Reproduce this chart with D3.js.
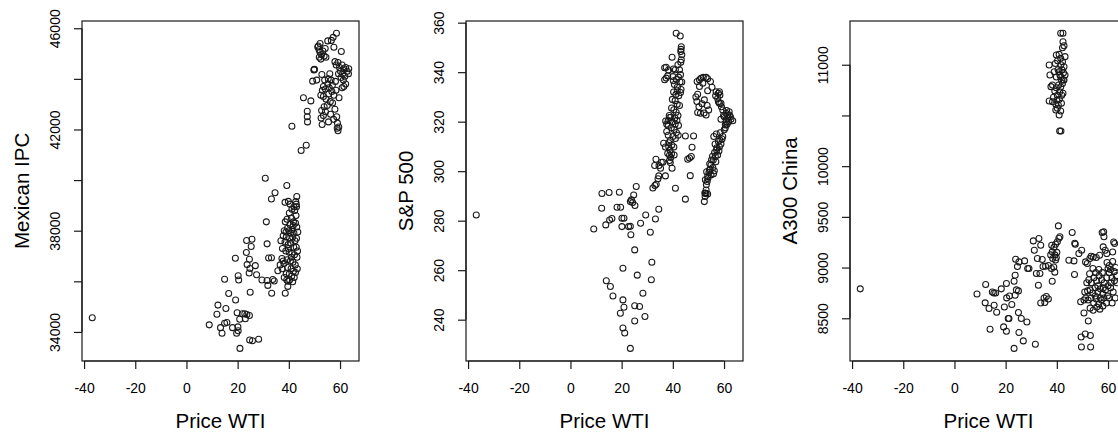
<!DOCTYPE html>
<html>
<head>
<meta charset="utf-8">
<script src="https://cdn.jsdelivr.net/npm/d3@7"></script>
<style>
  html, body { margin: 0; padding: 0; background: #fff; }
  svg { display: block; }
  text { font-family: "Liberation Sans", Arial, sans-serif; fill: #000; }
</style>
</head>
<body>
<svg id="chart" width="1118" height="434"></svg>
<script>
// WTI price (x) against three stock indices (y): [wti, index] pairs per panel.
const ipcPoints = [
  [-36.8, 34560],
  [8.9, 34280], [12.3, 35060], [11.9, 34700], [13.3, 34170], [13.9, 33950], [14.9, 34340], [15.8, 34370],
  [15.4, 34930], [14.9, 36080], [16.5, 35520], [18.0, 34170], [19.2, 35260], [19.8, 34760], [19.6, 33950],
  [20.1, 34200], [20.2, 34050], [19.1, 36910], [20.2, 36220], [20.4, 36050], [20.9, 33350], [21.9, 34720],
  [22.8, 34720], [23.6, 34690], [23.0, 34520], [24.6, 34650], [20.8, 34500], [24.7, 33680], [25.8, 33650],
  [28.2, 33710], [24.9, 35570], [23.5, 37610], [25.6, 37660], [25.3, 37380], [23.4, 37140], [24.6, 36870],
  [23.7, 36660], [24.8, 36510], [24.5, 36330], [26.9, 36620], [27.4, 36260], [29.5, 36050], [31.5, 36030],
  [31.8, 35840], [33.3, 35530], [33.7, 36070], [34.3, 36010], [30.8, 40070], [31.5, 37480], [32.1, 36920],
  [33.2, 36930], [33.2, 39250], [34.6, 39500], [31.2, 38350], [35.7, 36420], [36.6, 36650], [37.3, 36900],
  [38.5, 39120], [39.8, 39160], [39.2, 39790], [43.1, 39350], [42.7, 39150], [43.0, 38950], [38.6, 35530],
  [39.6, 35800], [39.7, 36000],
  [40.2, 38700], [41.0, 38500], [42.3, 38800], [42.8, 38600], [41.8, 38350], [40.5, 38250], [39.5, 38100],
  [38.9, 37950], [40.0, 38000], [41.3, 38050], [42.0, 37900], [43.1, 38150], [43.5, 37950], [39.0, 37750],
  [40.3, 37700], [41.5, 37750], [42.4, 37600], [43.0, 37700], [38.2, 38000], [37.8, 37800], [38.5, 37550],
  [39.7, 37450], [40.8, 37500], [41.9, 37350], [42.9, 37350], [37.5, 37300], [38.8, 37200], [40.1, 37150],
  [41.2, 37100], [42.2, 37050], [43.2, 36950], [39.3, 36850], [40.6, 36800], [41.6, 36750], [42.5, 36650],
  [38.1, 36700], [39.5, 36550], [40.9, 36500], [41.8, 36400], [42.6, 36350], [40.2, 36300], [41.1, 36200],
  [42.1, 36150], [39.0, 36300], [40.3, 36050], [41.5, 35980], [38.2, 36150], [37.4, 36500], [39.2, 36050],
  [40.7, 37900], [41.7, 38200], [42.6, 38300], [39.8, 37300], [41.0, 36950], [38.6, 38350], [39.3, 38450],
  [42.0, 38950], [41.2, 38850], [36.9, 37600], [37.8, 36800], [43.4, 37200], [43.3, 36500], [42.9, 39050],
  [40.5, 39050],
  [41.2, 42130], [44.8, 41170], [46.8, 41380], [45.7, 43250], [48.6, 43130], [47.2, 42720], [47.2, 42500],
  [47.3, 42300], [49.9, 44370], [49.8, 44350], [50.0, 44380], [49.3, 43910], [50.9, 43950], [52.9, 44170],
  [51.3, 45260], [51.8, 45150], [52.2, 45050], [52.8, 44950], [53.3, 45100], [51.9, 44850], [52.5, 44780],
  [53.8, 44900], [54.2, 45200], [55.2, 45500], [56.6, 45520], [57.3, 45640], [58.6, 45800], [57.6, 45250],
  [60.5, 45080], [58.0, 44680], [58.5, 44550], [59.2, 44650], [59.8, 44450], [60.2, 44300], [60.8, 44550],
  [61.5, 44400], [62.2, 44450], [62.8, 44300], [61.0, 44200], [61.9, 44100], [63.3, 44200], [63.4, 44400],
  [59.4, 44200], [60.4, 44050], [61.3, 43950], [62.2, 43800], [60.8, 43650], [61.5, 43700], [56.5, 43950],
  [55.2, 43800], [54.3, 43600], [53.1, 43550], [52.5, 43350], [53.5, 43300], [54.5, 43200], [55.6, 43400],
  [56.8, 43500], [57.6, 43350], [58.4, 43550], [59.6, 43250], [56.2, 43100], [57.1, 43050], [55.0, 42950],
  [53.8, 42900], [52.8, 42750], [53.5, 42550], [54.3, 42700], [56.3, 42600], [58.0, 42800], [58.7, 42500],
  [57.5, 42400], [53.0, 42200], [52.6, 42450], [55.5, 42300], [59.0, 42250], [59.5, 42100], [59.2, 41950],
  [58.9, 42050], [54.0, 43950], [53.5, 43700], [55.8, 43650], [57.0, 43750], [58.2, 43900], [56.0, 44200],
  [55.4, 44000], [54.5, 44850], [52.2, 45400], [51.5, 45300]
];

const spPoints = [
  [-36.8, 282.3],
  [9.1, 276.6], [12.3, 291.0], [12.2, 285.0], [15.1, 291.4], [13.8, 278.3], [15.3, 280.3], [16.2, 280.9],
  [18.2, 285.4], [19.6, 285.4], [19.1, 291.5], [20.1, 281.0], [20.9, 281.0], [20.1, 277.6], [22.7, 277.6],
  [23.4, 277.7], [23.6, 274.3], [23.4, 287.7], [23.8, 288.4], [24.7, 290.4], [25.7, 293.8], [25.2, 286.1],
  [24.3, 287.3], [25.1, 268.2], [27.4, 279.0], [29.4, 282.3], [31.2, 275.3], [33.2, 280.7], [34.5, 284.6],
  [14.0, 255.7], [15.6, 253.4], [16.6, 249.6], [20.5, 260.8], [20.5, 248.0], [20.9, 245.0], [19.5, 242.6],
  [20.5, 236.6], [21.2, 234.6], [23.4, 228.4], [25.1, 245.6], [27.0, 245.3], [25.1, 239.5], [26.1, 258.0],
  [28.3, 250.7], [29.1, 241.3], [31.8, 263.2], [31.6, 256.1],
  [32.2, 293.2], [33.0, 294.2], [33.5, 294.7], [34.2, 296.9], [34.5, 298.1], [32.9, 302.3], [34.6, 302.3],
  [35.5, 303.6], [36.1, 303.6], [35.2, 301.2], [33.4, 304.8], [37.1, 298.1], [36.4, 311.3], [37.1, 309.8],
  [38.0, 307.2], [38.4, 309.9], [38.7, 306.4], [41.0, 293.1], [39.7, 301.2], [39.0, 303.5], [38.7, 304.3],
  [37.2, 320.3], [38.2, 320.5], [38.7, 321.7], [37.6, 319.0], [36.8, 336.9], [37.4, 337.6], [36.8, 341.8],
  [37.4, 342.0], [38.3, 340.9], [39.7, 346.0], [40.2, 341.3], [40.0, 338.2], [41.3, 355.7], [42.9, 354.6],
  [43.3, 350.3], [43.2, 349.2], [43.1, 348.3], [43.5, 347.0], [43.3, 345.0], [43.1, 344.0],
  [42.0, 343.0], [42.6, 341.0], [43.0, 339.0], [42.2, 338.0], [41.4, 337.0], [42.8, 336.0], [40.6, 335.0],
  [41.8, 334.0], [43.2, 333.0], [40.3, 332.0], [41.2, 331.0], [42.3, 330.5], [39.8, 329.0], [40.9, 328.5],
  [41.7, 327.0], [42.6, 326.5], [39.5, 325.5], [40.4, 324.8], [41.3, 323.8], [42.0, 322.5], [40.8, 321.5],
  [41.6, 320.5], [39.8, 320.0], [40.9, 319.0], [42.2, 318.5], [39.4, 317.5], [40.5, 316.8], [41.4, 315.6],
  [42.1, 314.5], [40.0, 314.0], [41.0, 313.2], [39.0, 312.5], [38.4, 311.5], [39.6, 310.6], [40.4, 309.8],
  [38.9, 308.5], [39.5, 307.0], [40.5, 306.5], [39.2, 305.5], [38.2, 314.5], [37.6, 316.0], [38.6, 322.5],
  [38.2, 318.5], [39.2, 321.8], [41.7, 332.5], [43.5, 336.0], [43.0, 331.8], [41.0, 341.0], [40.2, 336.5],
  [38.0, 338.5],
  [44.9, 314.2], [44.9, 288.7], [45.8, 304.8], [46.8, 298.2], [47.2, 305.9], [47.5, 309.7], [46.5, 305.3],
  [48.1, 314.2],
  [49.5, 336.2], [50.4, 336.9], [51.0, 337.5], [51.9, 337.9], [53.0, 337.9], [53.6, 337.3], [49.7, 331.1],
  [49.4, 328.1], [49.7, 323.7], [50.8, 323.4], [51.4, 327.2], [52.3, 328.8], [53.0, 322.7], [54.0, 324.7],
  [53.6, 332.5], [50.4, 334.2], [51.7, 335.5], [54.7, 336.2], [55.3, 333.9], [56.9, 332.1], [58.2, 332.1],
  [58.4, 330.8], [58.2, 327.4], [58.8, 327.4], [57.5, 329.4], [59.5, 324.7], [60.8, 323.4], [61.4, 322.7],
  [62.1, 322.7], [62.7, 321.0], [63.4, 320.4], [61.8, 320.0], [60.8, 320.0], [61.4, 321.4], [60.1, 322.0],
  [60.5, 318.7], [60.1, 316.7], [59.5, 314.0], [58.4, 312.6], [58.2, 309.9], [57.1, 308.6], [56.6, 305.9],
  [55.8, 304.5], [54.9, 302.5], [54.3, 300.5], [53.6, 297.8], [53.4, 295.8], [53.0, 292.4], [52.7, 291.1],
  [52.3, 287.7],
  [56.0, 314.0], [57.0, 315.0], [58.5, 315.5], [59.2, 313.0], [57.8, 312.0], [56.5, 311.0], [58.8, 311.0],
  [57.2, 309.5], [58.0, 308.2], [56.3, 307.5], [57.5, 306.5], [55.5, 306.0], [56.8, 303.8], [55.1, 304.5],
  [54.4, 303.0], [55.6, 301.5], [54.1, 299.5], [53.2, 299.8], [54.9, 298.5], [53.7, 297.0], [52.7, 296.5],
  [53.1, 294.5], [52.5, 291.2], [53.0, 291.0], [53.6, 290.8], [52.6, 289.8], [54.6, 300.8], [56.2, 300.2],
  [55.9, 299.0], [60.5, 317.5], [61.2, 319.0], [62.5, 322.0], [62.0, 324.0], [61.0, 324.5], [59.8, 322.5],
  [58.8, 321.0], [59.0, 326.0], [57.8, 328.0], [56.7, 330.5], [57.8, 331.5], [49.0, 330.0], [50.2, 326.0],
  [52.2, 323.5], [53.4, 326.5]
];

const a300Points = [
  [-36.8, 8790],
  [8.8, 8740], [12.2, 8833], [12.0, 8652], [13.5, 8596], [13.9, 8392], [14.8, 8760], [15.4, 8750],
  [16.1, 8750], [15.5, 8629], [16.5, 8560], [18.3, 8790], [19.5, 8612], [19.2, 8415], [20.3, 8372],
  [20.3, 8842], [20.4, 8701], [21.0, 8497], [21.3, 8497], [21.5, 8720], [22.4, 8635], [23.3, 8203],
  [23.7, 8727], [23.3, 8865], [23.7, 8925], [23.9, 9082], [25.2, 9056], [24.6, 9010], [24.2, 8780],
  [25.0, 8770], [25.0, 8556], [26.1, 8497], [25.2, 8359], [26.9, 8277], [27.4, 9066], [28.3, 8464],
  [28.6, 8990], [29.1, 8990], [30.8, 9263], [31.2, 9171], [31.6, 8244], [32.0, 8941], [32.4, 9089],
  [32.8, 8826], [33.0, 9287], [33.7, 9221], [33.4, 8941], [34.3, 9079], [34.6, 9010], [33.7, 8650],
  [35.3, 8655], [35.0, 8700], [35.9, 8715], [36.7, 8690], [35.6, 9013], [36.7, 9020], [37.6, 9125],
  [38.2, 9155], [38.4, 9090], [39.2, 9125], [39.5, 9075], [37.9, 8990], [38.8, 9005], [39.2, 8955],
  [38.2, 8865], [38.0, 9220], [38.9, 9200], [39.5, 9230], [40.2, 9255], [40.8, 9290], [40.6, 9411],
  [41.2, 9303], [39.8, 9100], [40.0, 9150],
  [44.7, 9073], [46.0, 9346], [46.7, 9066], [47.0, 9240], [47.2, 9230], [46.9, 8931], [48.6, 9138],
  [49.7, 9171], [49.3, 8662], [49.5, 8316], [49.6, 8217], [51.1, 8345], [53.1, 8330], [53.2, 8217],
  [50.6, 8553], [52.3, 8474], [50.9, 8760], [50.6, 8680], [51.2, 9056], [51.9, 9040], [52.9, 9089],
  [53.4, 9112], [54.2, 9105], [55.4, 9099], [56.7, 9122], [57.7, 9346], [58.3, 9352], [58.4, 9303],
  [58.1, 9204], [58.9, 9171], [59.5, 9138], [61.8, 9154], [62.2, 9253], [62.6, 9237],
  [52.5, 8880], [53.5, 8850], [54.5, 8900], [55.5, 8870], [56.5, 8920], [57.5, 8880], [58.5, 8850],
  [59.5, 8900], [60.5, 8950], [61.5, 8900], [62.5, 8870], [63.2, 8920], [53.0, 8780], [54.0, 8750],
  [55.0, 8800], [56.0, 8760], [57.0, 8790], [58.0, 8740], [59.0, 8780], [60.0, 8820], [61.0, 8800],
  [62.0, 8760], [52.2, 8680], [53.3, 8700], [54.4, 8650], [55.4, 8690], [56.4, 8640], [57.4, 8680],
  [58.4, 8700], [59.4, 8650], [60.4, 8700], [53.0, 8600], [54.2, 8580], [55.6, 8610], [56.8, 8590],
  [58.0, 8620], [55.0, 8720], [56.0, 8820], [57.0, 8700], [58.2, 8800], [59.8, 8720], [61.2, 8850],
  [60.5, 9020], [61.0, 8980], [62.4, 8960], [59.6, 9050], [60.0, 8990], [57.8, 8950], [56.4, 8980],
  [55.2, 8950], [54.1, 8990], [52.8, 8940], [51.7, 8850], [52.0, 8770], [51.3, 8700], [63.4, 8850],
  [63.0, 9000], [61.8, 9060], [62.8, 8700], [61.6, 8650],
  [41.5, 11310], [42.4, 11310], [42.4, 11227], [42.8, 11187], [42.2, 11168], [39.8, 11096], [40.9, 11102],
  [41.5, 11063], [43.2, 11080], [37.0, 10997], [39.4, 11013], [42.2, 11030], [42.8, 10980], [37.3, 10898],
  [39.0, 10930], [40.9, 10930], [41.5, 10882], [43.2, 10898], [42.8, 10849], [42.2, 10816], [38.3, 10800],
  [37.7, 10784], [39.8, 10774], [41.1, 10734], [42.4, 10718], [37.0, 10642], [38.3, 10636], [39.6, 10610],
  [40.2, 10570], [41.5, 10544], [39.6, 10554], [40.9, 10504], [41.1, 10346], [41.6, 10346],
  [40.5, 10950], [41.2, 10900], [41.8, 10850], [40.7, 10800], [41.5, 10780], [40.2, 10700], [41.0, 10660],
  [41.8, 10620], [40.6, 10600], [42.0, 10950], [39.8, 10880], [41.6, 11000], [42.6, 10920], [39.2, 10740],
  [40.3, 11040], [41.9, 10700], [40.0, 10650], [42.5, 10850], [38.7, 10680]
];

// Axis ticks and which of them carry a printed label
const wtiTicks = [-40, -20, 0, 20, 40, 60];
const ipcTicks = [34000, 36000, 38000, 40000, 42000, 44000, 46000];
const ipcLabelled = [34000, 38000, 42000, 46000];
const spTicks = [240, 260, 280, 300, 320, 340, 360];
const spLabelled = [240, 260, 280, 300, 320, 340, 360];
const a300Ticks = [8500, 9000, 9500, 10000, 10500, 11000];
const a300Labelled = [8500, 9000, 9500, 10000, 11000];

const xTitle = "Price WTI";
const yTitles = ["Mexican IPC", "S&P 500", "A300 China"];

const panels = [
  { points: ipcPoints, ticks: ipcTicks, labelled: ipcLabelled, title: yTitles[0] },
  { points: spPoints, ticks: spTicks, labelled: spLabelled, title: yTitles[1] },
  { points: a300Points, ticks: a300Ticks, labelled: a300Labelled, title: yTitles[2] }
];

// Layout (three equal figure regions, plot area inside each)
const plotLefts = [82, 466, 850];
const plotW = 277;
const plotTop = 20.7, plotBottom = 361;
const ink = "#1a1a1a";

// R-style axis limits: data range extended by 4% on each side
function rLimits(vals) {
  const [lo, hi] = d3.extent(vals);
  const pad = (hi - lo) * 0.04;
  return [lo - pad, hi + pad];
}

const allX = panels.flatMap(p => p.points.map(d => d[0]));
const xDomain = rLimits(allX);

const svg = d3.select("#chart");
svg.append("rect").attr("width", 1118).attr("height", 434).attr("fill", "#fff");

const fmt = v => String(v);  // plain hyphen-minus, as printed by the plotting device

panels.forEach((p, i) => {
  const left = plotLefts[i];
  const x = d3.scaleLinear().domain(xDomain).range([left, left + plotW]);
  const y = d3.scaleLinear().domain(rLimits(p.points.map(d => d[1]))).range([plotBottom, plotTop]);
  const g = svg.append("g");

  // points (open circles)
  g.append("g")
    .selectAll("circle")
    .data(p.points)
    .join("circle")
    .attr("cx", d => x(d[0]))
    .attr("cy", d => y(d[1]))
    .attr("r", 3)
    .attr("fill", "none")
    .attr("stroke", ink)
    .attr("stroke-width", 1.05);

  // x axis
  const xa = g.append("g")
    .attr("transform", `translate(0,${plotBottom})`)
    .call(d3.axisBottom(x).tickValues(wtiTicks).tickFormat(fmt).tickSize(8).tickSizeOuter(0));
  xa.select(".domain").remove();
  xa.append("line")
    .attr("x1", x(wtiTicks[0])).attr("x2", x(wtiTicks[wtiTicks.length - 1]))
    .attr("stroke", ink).attr("stroke-width", 1.2);
  xa.selectAll(".tick line").attr("stroke", ink).attr("stroke-width", 1.2);
  xa.selectAll(".tick text")
    .attr("y", 32).attr("dy", null)
    .style("font-size", "14px");
  xa.attr("font-family", null).attr("font-size", null);

  // y axis
  const ya = g.append("g")
    .attr("transform", `translate(${left},0)`)
    .call(d3.axisLeft(y).tickValues(p.ticks)
      .tickFormat(v => p.labelled.includes(v) ? fmt(v) : "")
      .tickSize(8).tickSizeOuter(0));
  ya.select(".domain").remove();
  ya.append("line")
    .attr("y1", y(p.ticks[0])).attr("y2", y(p.ticks[p.ticks.length - 1]))
    .attr("stroke", ink).attr("stroke-width", 1.2);
  ya.selectAll(".tick line").attr("stroke", ink).attr("stroke-width", 1.2);
  ya.selectAll(".tick text")
    .attr("x", null).attr("dy", null)
    .attr("text-anchor", "middle")
    .attr("transform", "translate(-22.5,0) rotate(-90)")
    .style("font-size", "14px");
  ya.attr("font-family", null).attr("font-size", null);

  // plot box
  g.append("rect")
    .attr("x", left).attr("y", Math.round(plotTop))
    .attr("width", plotW).attr("height", plotBottom - Math.round(plotTop))
    .attr("fill", "none").attr("stroke", ink).attr("stroke-width", 1.2);

  // axis titles
  g.append("text")
    .attr("x", left + plotW / 2).attr("y", 428)
    .attr("text-anchor", "middle")
    .style("font-size", "20.5px")
    .text(xTitle);
  g.append("text")
    .attr("transform", `translate(${left - 53},${(plotTop + plotBottom) / 2}) rotate(-90)`)
    .attr("text-anchor", "middle")
    .style("font-size", "20.5px")
    .text(p.title);
});
</script>
</body>
</html>
